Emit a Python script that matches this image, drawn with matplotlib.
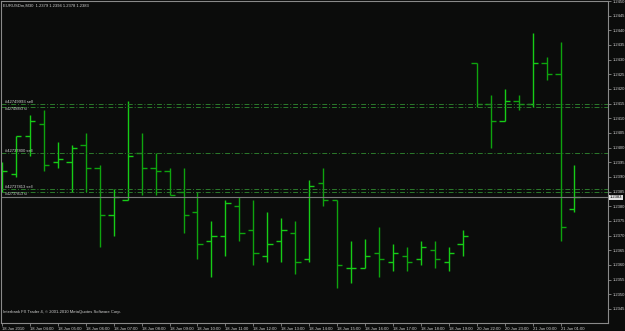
import matplotlib
matplotlib.use('Agg')
import matplotlib.pyplot as plt
import numpy as np

plt.rcParams['font.family'] = ['Liberation Sans', 'DejaVu Sans']

title = "EURUSDm,M30  1.2379 1.2394 1.2378 1.2383"
footer = "Interbank FX Trader 4, \u00a9 2001-2010 MetaQuotes Software Corp."

# M30 bars, 18 Jun 03:00 .. 21 Jun 01:30
opens = [1.2388, 1.2391, 1.2404, 1.2408, 1.2395, 1.2395, 1.2401, 1.2393, 1.2377, 1.2382,
         1.2398, 1.2393, 1.2392, 1.2385, 1.2378, 1.2368, 1.2370, 1.2380, 1.2372, 1.2363,
         1.2368, 1.2371, 1.2362, 1.2388, 1.2382, 1.2359, 1.2359, 1.2364, 1.2361, 1.2363,
         1.2362, 1.2365, 1.2361, 1.2367, 1.2429, 1.2415, 1.2409, 1.2416, 1.2415, 1.2429,
         1.2425, 1.2379]
highs = [1.2395, 1.2404, 1.2411, 1.2413, 1.2402, 1.2401, 1.2405, 1.2394, 1.2386, 1.2416,
         1.2405, 1.2398, 1.2393, 1.2393, 1.2385, 1.2375, 1.2382, 1.2383, 1.2382, 1.2378,
         1.2376, 1.2375, 1.2389, 1.2393, 1.2382, 1.2368, 1.2369, 1.2373, 1.2367, 1.2366,
         1.2368, 1.2368, 1.2366, 1.2372, 1.2429, 1.2418, 1.2420, 1.2418, 1.2439, 1.2431,
         1.2436, 1.2394]
lows = [1.2385, 1.2390, 1.2397, 1.2392, 1.2393, 1.2385, 1.2385, 1.2366, 1.2370, 1.2382,
        1.2384, 1.2384, 1.2384, 1.2371, 1.2362, 1.2356, 1.2363, 1.2368, 1.2360, 1.2361,
        1.2361, 1.2357, 1.2361, 1.2380, 1.2352, 1.2354, 1.2359, 1.2356, 1.2358, 1.2358,
        1.2360, 1.2359, 1.2358, 1.2363, 1.2414, 1.2400, 1.2409, 1.2413, 1.2414, 1.2423,
        1.2368, 1.2378]
closes = [1.2392, 1.2404, 1.2409, 1.2394, 1.2396, 1.2400, 1.2393, 1.2377, 1.2383, 1.2397,
          1.2393, 1.2392, 1.2384, 1.2377, 1.2367, 1.2370, 1.2381, 1.2371, 1.2364, 1.2367,
          1.2372, 1.2361, 1.2387, 1.2382, 1.2360, 1.2359, 1.2363, 1.2362, 1.2364, 1.2361,
          1.2366, 1.2362, 1.2364, 1.2370, 1.2415, 1.2409, 1.2416, 1.2415, 1.2429, 1.2425,
          1.2373, 1.2383]

time_labels = ["18 Jun 2010", "18 Jun 04:00", "18 Jun 05:00", "18 Jun 06:00", "18 Jun 07:00",
               "18 Jun 08:00", "18 Jun 09:00", "18 Jun 10:00", "18 Jun 11:00", "18 Jun 12:00",
               "18 Jun 13:00", "18 Jun 14:00", "18 Jun 15:00", "18 Jun 16:00", "18 Jun 17:00",
               "18 Jun 18:00", "18 Jun 19:00", "20 Jun 22:00", "20 Jun 23:00", "21 Jun 00:00",
               "21 Jun 01:00"]

order_prices = [1.2415, 1.2414, 1.2398, 1.2386, 1.2385]
order_labels = ["#42749993 sell", "#42749993 sl", "#42737800 sell", "#42737813 sell", "#42737813 sl"]
bid = 1.2383

bg = '#0b0c0b'
frame = '#8a8a8a'
txt = '#d2d2d2'
fs = 3.0

fig = plt.figure(figsize=(6.25, 3.31), dpi=100, facecolor=bg)
ax = fig.add_axes([1 / 625, 8 / 331, 607 / 625, 322 / 331], facecolor=bg)

x = np.arange(len(opens))
o = np.array(opens)
c = np.array(closes)
cols = np.where(c >= o, '#16cc16', '#0ea40e')
ax.vlines(x, lows, highs, colors=cols, lw=1.0)
ax.hlines(o, x - 0.38, x, colors=cols, lw=1.0)
ax.hlines(c, x, x + 0.38, colors=cols, lw=1.0)

# pending order lines
for p in order_prices:
    ax.axhline(p, color='#2b7a2b', lw=0.7, ls=(0, (5, 2, 1, 2)))
for p, lab in zip(order_prices, order_labels):
    small = lab.endswith('sl')
    ax.text(0.2, p, lab, color=txt, fontsize=2.6 if small else fs,
            va='top' if small else 'bottom', ha='left')

# bid line
ax.axhline(bid, color='#7a7a7a', lw=0.8)
ax.annotate("%.4f" % bid, xy=(1.003, bid), xycoords=('axes fraction', 'data'),
            fontsize=fs, color='black', va='center', ha='left',
            bbox=dict(boxstyle='square,pad=0.2', fc='#e0e0e0', ec='none'))

ax.set_xlim(-0.07, 43.4)
ax.set_ylim(1.23402, 1.2450)

ax.yaxis.tick_right()
yt = np.arange(1.2345, 1.24501, 0.0005)
ax.set_yticks(yt)
ax.set_yticklabels(["%.4f" % v for v in yt])
ax.tick_params(axis='y', colors=frame, labelcolor=txt, labelsize=fs, length=2, width=0.6, pad=1.5)

ax.set_xticks(np.arange(0, 42, 2))
ax.set_xticklabels(time_labels)
for lbl in ax.get_xticklabels():
    lbl.set_ha('left')
ax.tick_params(axis='x', colors=frame, labelcolor=txt, labelsize=fs, length=2, width=0.6, pad=0.8)

for s in ax.spines.values():
    s.set_color(frame)
    s.set_linewidth(0.8)

ax.text(0.004, 0.985, title, transform=ax.transAxes, color=txt, fontsize=fs, va='center', ha='left')
ax.text(0.004, 0.034, footer, transform=ax.transAxes, color=txt, fontsize=fs, va='center', ha='left')

fig.savefig('out.png', dpi=100, facecolor=bg)
